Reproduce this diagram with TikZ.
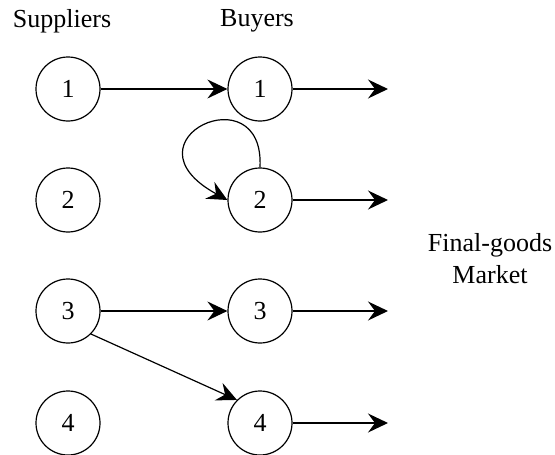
\documentclass[tikz,border=0pt]{standalone}
\usepackage{fontspec}
\setmainfont{Liberation Serif}
\usetikzlibrary{arrows.meta,positioning}

\begin{document}
\begin{tikzpicture}[x=1pt,y=-1pt,
        every node/.style={font=\fontsize{26}{32}\selectfont},
        firm/.style={circle, draw, line width=1.2pt, minimum size=64pt, inner sep=0pt},
        flow/.style={-{Stealth[length=20pt,width=19pt,inset=7pt]}, line width=1.2pt}]
        \useasboundingbox (0,0) rectangle (555,455);

        % Column titles
        \node (supl) at (62,21) {Suppliers};
        \node (buy) at (257,21) {Buyers};

        % Suppliers, buyers and the sales to the market
        \foreach \i/\y in {1/89,2/200,3/311,4/423} {
            \node[firm] (s\i) at (68,\y) {\i};
            \node[firm] (b\i) at (260,\y) {\i};
            \coordinate (o\i) at (388,\y);
            \draw[flow] (b\i) -- (o\i);
        }

        % Market label
        \node[align=center] (mkt) at (490,259) {Final-goods\\Market};

        % Supplier-buyer links
        \draw[flow] (s1) -- (b1);
        \draw[flow] (s3) -- (b3);
        \draw[flow] (s3.south east) -- (b4.north west);

        % Buyer 2 supplies itself
        \draw[flow] (b2.north) .. controls (265,72) and (118,140) .. (b2.west);
\end{tikzpicture}
\end{document}
